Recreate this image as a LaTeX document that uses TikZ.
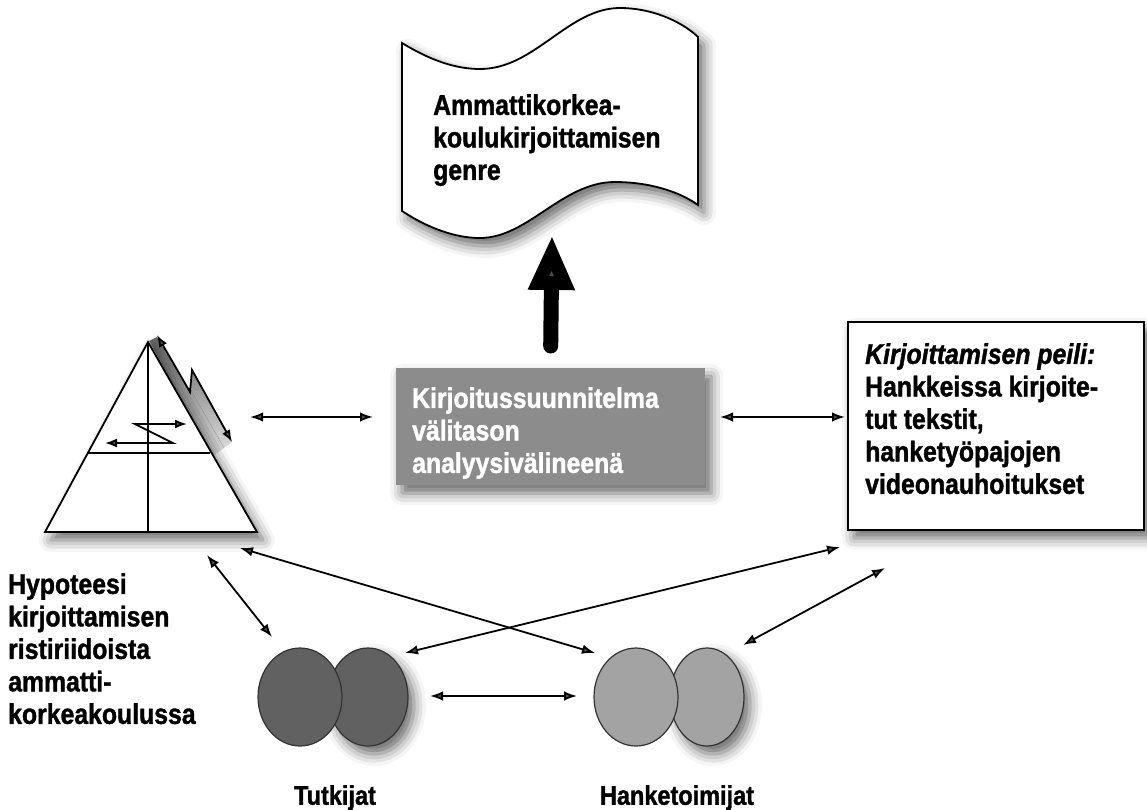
\documentclass[tikz,border=0pt]{standalone}
\usepackage{fontspec}
\setmainfont{Liberation Sans}[FakeStretch=0.87, BoldFeatures={FakeBold=1.3}, BoldItalicFeatures={FakeBold=1.3}]
\usetikzlibrary{arrows.meta,shapes.geometric,shadows.blur}
\begin{document}
\begin{tikzpicture}[x=1pt,y=-1pt,
  lbl/.style={inner sep=0pt, anchor=north west, align=left, font=\fontsize{28.5}{32.5}\selectfont\bfseries},
  lblb/.style={inner sep=0pt, anchor=north, font=\fontsize{27}{30}\selectfont\bfseries},
  conn/.style={line width=1.8pt, {Latex[length=13pt,width=9.5pt]}-{Latex[length=13pt,width=9.5pt]}},
  small/.style={line width=1.8pt, {Latex[length=12pt,width=9pt]}-{Latex[length=12pt,width=9pt]}},
  shd/.style={blur shadow={shadow xshift=6pt, shadow yshift=-8pt, shadow blur radius=12pt, shadow opacity=60}},
  blob/.style={ellipse, draw=black!80, line width=1.2pt, inner sep=0pt, minimum height=98pt},
  dark/.style={fill=black!62},
  light/.style={fill=black!36},
]
\useasboundingbox (0,0) rectangle (1147,809);

% --- genre document (wavy) ---
\path[draw, line width=1.8pt, fill=white, shd]
  (402,43) .. controls (430,60) and (455,69) .. (480,69)
  .. controls (535,69) and (568,8) .. (620,8)
  .. controls (650,8) and (680,20) .. (698,37)
  -- (698,205)
  .. controls (680,192) and (650,182) .. (615,182)
  .. controls (562,182) and (528,238) .. (480,238)
  .. controls (455,238) and (428,228) .. (402,211) -- cycle;
\node[lbl] (genreT) at (433,94) {Ammattikorkea-\\koulukirjoittamisen\\genre};
\coordinate (genreTip) at (552,235);

% --- central box ---
\node[fill=black!45, minimum width=309pt, minimum height=117pt, anchor=north west, inner sep=0pt, shd] (plan) at (396,368) {};
\node[lbl, text=white] (planT) at (412,387) {Kirjoitussuunnitelma\\välitason\\analyysivälineenä};

% thick arrow
\draw[line width=15pt, line cap=round, -{Triangle[length=55pt,width=43pt]}]
  ([yshift=22pt]plan.north) -- (genreTip);

% --- right box ---
\node[draw, line width=2pt, fill=white, minimum width=296pt, minimum height=208pt, anchor=north west, inner sep=0pt, shd] (mirror) at (847,321) {};
\node[lbl] (mirrorT) at (865,343) {\textit{Kirjoittamisen peili:}\\Hankkeissa kirjoite-\\tut tekstit,\\hanketyöpajojen\\videonauhoitukset};

% --- triangle ---
\coordinate (apex) at (148,342);
\coordinate (baseL) at (45,532);
\coordinate (baseR) at (257,532);
\shade[top color=black!60, bottom color=black!12] (149,341) -- (157,337) -- (190,393) -- (192,372) -- (232,442) -- (213,456) -- cycle;
\draw[line width=1.8pt, fill=white, shd] (apex) -- (baseR) -- (baseL) -- cycle;
\draw[line width=1.8pt] (apex) -- (148,532);
\draw[line width=1.8pt] (88,453) -- (210,453);
\draw[small] (187,424) -- (135,424) -- (173,443) -- (105,443);
\draw[small] (157,335) -- (190,392) -- (192,370) -- (232,442);
\node[lbl] (hypT) at (8,573) {Hypoteesi\\kirjoittamisen\\ristiriidoista\\ammatti-\\korkeakoulussa};

% --- groups ---
\node[blob, dark, minimum width=80pt, shd] (tut2) at (368,697) {};
\node[blob, dark, minimum width=84pt] (tut1) at (300,697) {};
\node[blob, light, minimum width=74pt, shd] (han2) at (707,697) {};
\node[blob, light, minimum width=84pt] (han1) at (636,697) {};
\node[lblb] (tutT) at (335,785) {Tutkijat};
\node[lblb] (hanT) at (677,785) {Hanketoimijat};

% --- connector end points ---
\coordinate (triE) at (250,417);
\coordinate (planW) at (373,417);
\coordinate (planE) at (720,417);
\coordinate (mirW) at (845,417);
\coordinate (triB1) at (207,555);
\coordinate (triB2) at (240,548);
\coordinate (mirB1) at (840,547);
\coordinate (mirB2) at (885,568);
\coordinate (tutNE) at (405,653);
\coordinate (tutNW) at (272,637);
\coordinate (tutE) at (430,696);
\coordinate (hanW) at (577,696);
\coordinate (hanNW) at (595,653);
\coordinate (hanNE) at (743,645);

\draw[conn] (triE) -- (planW);
\draw[conn] (planE) -- (mirW);
\draw[conn] (triB1) -- (tutNW);
\draw[conn] (triB2) -- (hanNW);
\draw[conn] (mirB1) -- (tutNE);
\draw[conn] (mirB2) -- (hanNE);
\draw[conn] (tutE) -- (hanW);
\end{tikzpicture}
\end{document}
